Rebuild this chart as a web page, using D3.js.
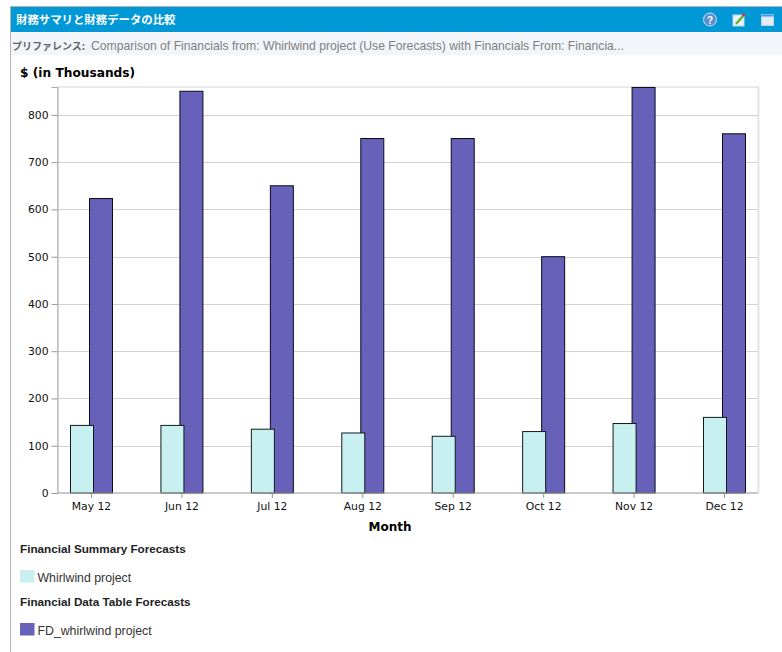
<!DOCTYPE html>
<html lang="ja">
<head>
<meta charset="UTF-8">
<title>財務サマリと財務データの比較</title>
<script src="https://cdn.jsdelivr.net/npm/d3@7"></script>
<style>
    html, body { margin: 0; padding: 0; background: #fff; }
    svg { display: block; }
    .tick text { font-family: "DejaVu Sans", sans-serif; font-size: 10.8px; fill: #111; }
</style>
</head>
<body>
<script>
const months = ['May 12', 'Jun 12', 'Jul 12', 'Aug 12', 'Sep 12', 'Oct 12', 'Nov 12', 'Dec 12'];
const summaryValues = [143, 143, 135, 127, 120, 130, 147, 160];
const dataTableValues = [623, 850, 650, 750, 750, 500, 858, 760];
const yTicks = [0, 100, 200, 300, 400, 500, 600, 700, 800];

const width = 782, height = 652;
const plot = { left: 57.5, right: 758, top: 87, bottom: 493 };
const barWidth = 23;

const svg = d3.select('body').append('svg')
    .attr('width', width)
    .attr('height', height);

// portlet frame
svg.append('rect').attr('x', 10).attr('y', 6).attr('width', 772).attr('height', 1).attr('fill', '#b5b5b5');
svg.append('rect').attr('x', 10).attr('y', 6).attr('width', 1).attr('height', 646).attr('fill', '#b5b5b5');
svg.append('rect').attr('x', 11).attr('y', 7).attr('width', 771).attr('height', 25).attr('fill', '#0098d6');
svg.append('rect').attr('x', 11).attr('y', 33).attr('width', 771).attr('height', 22).attr('fill', '#f2f5fa');

svg.append('text').attr('x', 16).attr('y', 24)
    .attr('font-family', '"Noto Sans CJK JP", sans-serif').attr('font-size', 11.4).attr('font-weight', 700)
    .attr('fill', '#fff').text('財務サマリと財務データの比較');

svg.append('text').attr('x', 12).attr('y', 50)
    .attr('font-family', '"Noto Sans CJK JP", sans-serif').attr('font-size', 10).attr('font-weight', 700)
    .attr('fill', '#666').text('プリファレンス:');
svg.append('text').attr('x', 91).attr('y', 50)
    .attr('font-family', '"Liberation Sans", sans-serif').attr('font-size', 12.2).attr('fill', '#808080')
    .text('Comparison of Financials from: Whirlwind project (Use Forecasts) with Financials From: Financia...');

// header icons
let help = svg.append('g').attr('transform', 'translate(710,19.5)');
help.append('circle').attr('r', 6.5).attr('fill', '#5b8fd0').attr('stroke', '#cfe0f3');
help.append('text').attr('text-anchor', 'middle').attr('y', 4).attr('font-family', '"Liberation Sans", sans-serif')
    .attr('font-size', 10).attr('font-weight', 700).attr('fill', '#fff').text('?');
let edit = svg.append('g').attr('transform', 'translate(733,14)');
edit.append('rect').attr('width', 11).attr('height', 11).attr('y', 1).attr('fill', '#eef4fb').attr('stroke', '#bcd6ef');
edit.append('line').attr('x1', 3).attr('y1', 10).attr('x2', 10).attr('y2', 2).attr('stroke', '#5fb52e').attr('stroke-width', 2.5);
edit.append('circle').attr('cx', 10.5).attr('cy', 1).attr('r', 1.5).attr('fill', '#d9342b');
let win = svg.append('g').attr('transform', 'translate(761.5,14.5)');
win.append('rect').attr('width', 12).attr('height', 11).attr('fill', '#e6e9f8').attr('stroke', '#bcd6ef');
win.append('rect').attr('width', 12).attr('height', 2).attr('fill', '#3a9fe0');

// chart title
svg.append('text').attr('x', 20).attr('y', 77)
    .attr('font-family', '"DejaVu Sans", sans-serif').attr('font-size', 12.2).attr('font-weight', 700)
    .attr('fill', '#000').text('$ (in Thousands)');

const x = d3.scalePoint().domain(months).range([91, 724]);
const y = d3.scaleLinear().domain([0, 859]).range([plot.bottom, plot.top]);

// plot background
svg.append('rect')
    .attr('x', plot.left).attr('y', plot.top)
    .attr('width', plot.right - plot.left).attr('height', plot.bottom - plot.top)
    .attr('fill', '#fff').attr('stroke', '#d4d4d4');
svg.append('line').attr('x1', plot.right + 1).attr('x2', plot.right + 1)
    .attr('y1', plot.top).attr('y2', plot.bottom).attr('stroke', '#e6e6e6');

// gridlines
svg.append('g').selectAll('line').data(yTicks.slice(1)).join('line')
    .attr('x1', plot.left).attr('x2', plot.right)
    .attr('y1', d => Math.round(y(d)) + 0.5).attr('y2', d => Math.round(y(d)) + 0.5)
    .attr('stroke', '#d2d2d2');

// dark bars are behind, light ones overlap them
svg.append('g').selectAll('rect').data(months).join('rect')
    .attr('x', d => x(d) - 2 + 0.5)
    .attr('y', (d, i) => y(dataTableValues[i]))
    .attr('width', barWidth)
    .attr('height', (d, i) => plot.bottom - y(dataTableValues[i]))
    .attr('fill', '#6761b9').attr('stroke', '#0b0a1c');

svg.append('g').selectAll('rect').data(months).join('rect')
    .attr('x', d => x(d) - 21 + 0.5)
    .attr('y', (d, i) => y(summaryValues[i]))
    .attr('width', barWidth)
    .attr('height', (d, i) => plot.bottom - y(summaryValues[i]))
    .attr('fill', '#c8f0f0').attr('stroke', '#101c1c');

// axes
const yAxis = svg.append('g').attr('transform', `translate(${plot.left},0)`)
    .call(d3.axisLeft(y).tickValues(yTicks).tickSize(6).tickPadding(3));
const xAxis = svg.append('g').attr('transform', `translate(0,${plot.bottom})`)
    .call(d3.axisBottom(x).tickSize(5).tickPadding(4));
[yAxis, xAxis].forEach(a => {
    a.selectAll('.domain').attr('stroke', '#aaa');
    a.selectAll('.tick line').attr('stroke', '#999');
});
xAxis.select('.domain').attr('d', `M${plot.left},0H${plot.right}`);

svg.append('text').attr('x', 390).attr('y', 531).attr('text-anchor', 'middle')
    .attr('font-family', '"DejaVu Sans", sans-serif').attr('font-size', 12).attr('font-weight', 700)
    .attr('fill', '#000').text('Month');

// legend
const legendGroups = ['Financial Summary Forecasts', 'Financial Data Table Forecasts'];
const legendNames = ['Whirlwind project', 'FD_whirlwind project'];
const legendColors = ['#c8f0f0', '#6761b9'];
const legendY = [552, 605];

legendGroups.forEach((g, i) => {
    svg.append('text').attr('x', 20).attr('y', legendY[i] + 0.5)
        .attr('font-family', '"Liberation Sans", sans-serif').attr('font-size', 11.7).attr('font-weight', 700)
        .attr('fill', '#222').text(g);
    svg.append('rect').attr('x', 20).attr('y', legendY[i] + 18).attr('width', 14.5).attr('height', 12.5)
        .attr('fill', legendColors[i]);
    svg.append('text').attr('x', 37.5).attr('y', legendY[i] + 30)
        .attr('font-family', '"Liberation Sans", sans-serif').attr('font-size', 12.3)
        .attr('fill', '#333').text(legendNames[i]);
});
</script>
</body>
</html>
